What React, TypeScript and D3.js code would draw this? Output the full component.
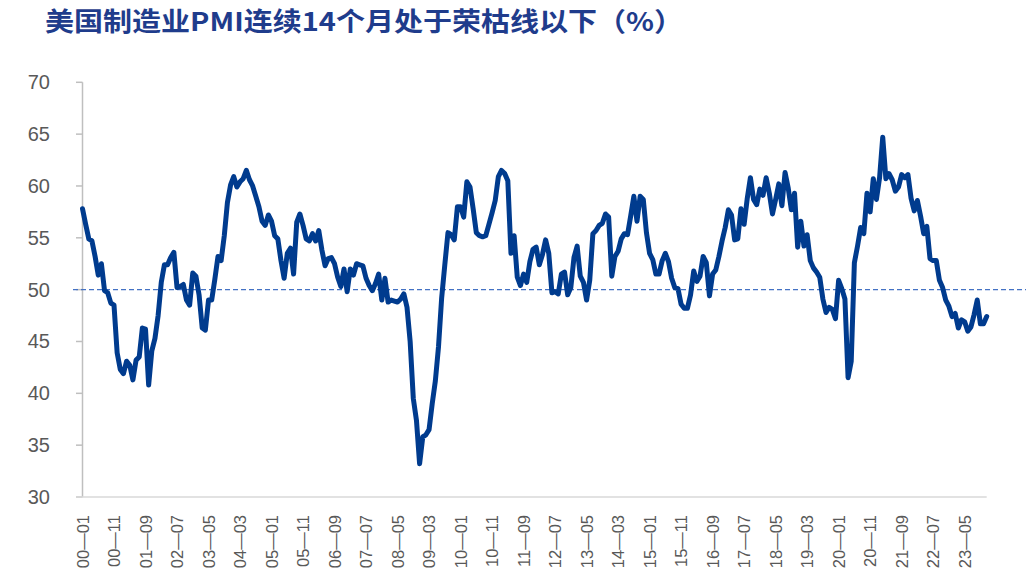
import React from "react";
import * as d3 from "d3";

const title = "美国制造业PMI连续14个月处于荣枯线以下（%）";
const startYear = 2000;

// ISM manufacturing PMI, monthly, 2000-01 .. 2023-12
const pmiValues: number[] = [
  57.8, 56.3, 54.9, 54.7, 53.2, 51.4, 52.5, 49.9, 49.7, 48.7, 48.5, 43.9,
  42.3, 41.9, 43.1, 42.7, 41.3, 43.2, 43.5, 46.3, 46.2, 40.8, 44.1, 45.3,
  47.5, 50.7, 52.4, 52.4, 53.1, 53.6, 50.2, 50.3, 50.5, 49.0, 48.5, 51.6,
  51.3, 49.5, 46.3, 46.1, 49.0, 49.0, 51.0, 53.2, 52.8, 55.2, 58.4, 60.1,
  60.9, 59.9, 60.4, 60.7, 61.5, 60.6, 60.0, 59.0, 58.0, 56.6, 56.2, 57.2,
  56.6, 55.2, 54.9, 52.8, 51.1, 53.5, 54.0, 51.5, 56.5, 57.3, 56.2, 54.9,
  54.7, 55.4, 54.7, 55.7, 53.8, 52.3, 53.0, 53.1, 52.5, 51.2, 50.3, 52.0,
  49.8, 52.0, 51.4, 52.5, 52.4, 52.3, 51.1, 50.4, 49.9, 50.6, 51.5, 49.0,
  51.1, 48.8, 49.0, 48.9, 48.8, 49.1, 49.6, 48.3, 45.0, 39.5, 37.4, 33.2,
  35.8, 36.0, 36.5, 39.0, 41.2, 44.5, 49.2, 52.4, 55.5, 55.3, 54.8, 58.0,
  58.0, 57.0, 60.4, 59.9, 57.8, 55.5, 55.2, 55.1, 55.2, 56.3, 57.4, 58.6,
  60.9, 61.5, 61.2, 60.5, 53.5, 55.2, 51.2, 50.4, 51.5, 50.7, 52.7, 53.9,
  54.1, 52.4, 53.4, 54.8, 53.5, 49.7, 49.8, 49.6, 51.5, 51.7, 49.5, 50.2,
  53.1, 54.2, 51.3, 50.7, 49.0, 50.9, 55.4, 55.7, 56.2, 56.4, 57.3, 57.0,
  51.3, 53.2, 53.7, 54.9, 55.4, 55.3, 57.1, 59.0, 56.6, 59.0, 58.7, 55.5,
  53.5, 52.9, 51.5, 51.5, 52.8, 53.5, 52.7, 51.1, 50.2, 50.1, 48.6, 48.2,
  48.2, 49.5, 51.8, 50.8, 51.3, 53.2, 52.6, 49.4, 51.5, 51.9, 53.2, 54.7,
  56.0, 57.7, 57.2, 54.8, 54.9, 57.8, 56.3, 58.8, 60.8, 58.7, 58.2, 59.7,
  59.1, 60.8, 59.3, 57.3, 58.7, 60.2, 58.1, 61.3, 59.8, 57.7, 59.3, 54.1,
  56.6, 54.2, 55.3, 52.8, 52.1, 51.7, 51.2, 49.1, 47.8, 48.3, 48.1, 47.2,
  50.9, 50.1, 49.1, 41.5, 43.1, 52.6, 54.2, 56.0, 55.4, 59.3, 57.5, 60.7,
  58.7, 60.8, 64.7, 60.7, 61.2, 60.6, 59.5, 59.9, 61.1, 60.8, 61.1, 58.8,
  57.6, 58.6, 57.1, 55.4, 56.1, 53.0, 52.8, 52.8, 50.9, 50.2, 49.0, 48.4,
  47.4, 47.7, 46.3, 47.1, 46.9, 46.0, 46.4, 47.6, 49.0, 46.7, 46.7, 47.4,
];

const months: string[] = pmiValues.map((_, i) => {
  const yy = (startYear + Math.floor(i / 12)) % 100;
  const mm = (i % 12) + 1;
  return `${String(yy).padStart(2, "0")}-${String(mm).padStart(2, "0")}`;
});

const tickLabels = [
  "00-01", "00-11", "01-09", "02-07", "03-05", "04-03", "05-01", "05-11",
  "06-09", "07-07", "08-05", "09-03", "10-01", "10-11", "11-09", "12-07",
  "13-05", "14-03", "15-01", "15-11", "16-09", "17-07", "18-05", "19-03",
  "20-01", "20-11", "21-09", "22-07", "23-05",
];

const yTicks = [30, 35, 40, 45, 50, 55, 60, 65, 70];
const thresholdValue = 50;

export default function App() {
  const W = 1029;
  const H = 579;
  const x = d3.scalePoint<string>().domain(months).range([82.5, 986.7]);
  const y = d3.scaleLinear().domain([30, 70]).range([497, 82.3]);
  const line = d3
    .line<number>()
    .x((_, i) => x(months[i]) as number)
    .y((d) => y(d));

  const axisColor = "#BFBFBF";
  const textColor = "#595959";
  const font = "'Liberation Sans', Arial, sans-serif";

  return (
    <svg
      width={W}
      height={H}
      style={{ position: "absolute", left: 0, top: 0, background: "#fff" }}
    >
      <rect x={0} y={0} width={W} height={H} fill="#fff" />
      <text
        x={45}
        y={31}
        fontFamily="'Noto Sans CJK SC', sans-serif"
        fontWeight={700}
        fontSize={26}
        fill="#1F3C8C"
        textLength={638}
        lengthAdjust="spacingAndGlyphs"
      >
        {title}
      </text>

      {/* y axis */}
      <line x1={82.5} x2={82.5} y1={y(70)} y2={y(30)} stroke={axisColor} strokeWidth={1.5} />
      {yTicks.map((t) => (
        <g key={t}>
          <line x1={76} x2={82.5} y1={y(t)} y2={y(t)} stroke={axisColor} strokeWidth={1.5} />
          <text
            x={50}
            y={y(t)}
            textAnchor="end"
            dominantBaseline="central"
            fontFamily={font}
            fontSize={20}
            fill={textColor}
          >
            {t}
          </text>
        </g>
      ))}

      {/* x axis */}
      <line x1={76} x2={986.7} y1={y(30)} y2={y(30)} stroke="#D9D9D9" strokeWidth={1.5} />
      {tickLabels.map((lab) => {
        const px = x(lab) as number;
        return (
          <text
            key={lab}
            transform={`translate(${px},515) rotate(-90)`}
            textAnchor="end"
            dominantBaseline="central"
            fontFamily={font}
            fontSize={16.5}
            fill={textColor}
          >
            {lab.replace("-", "—")}
          </text>
        );
      })}

      {/* 50 threshold */}
      <line
        x1={73}
        x2={1026}
        y1={y(thresholdValue)}
        y2={y(thresholdValue)}
        stroke="#4472C4"
        strokeWidth={1.2}
        strokeDasharray="5 3"
      />

      <path
        d={line(pmiValues) || ""}
        fill="none"
        stroke="#003B8E"
        strokeWidth={5}
        strokeLinejoin="round"
        strokeLinecap="round"
      />
    </svg>
  );
}
